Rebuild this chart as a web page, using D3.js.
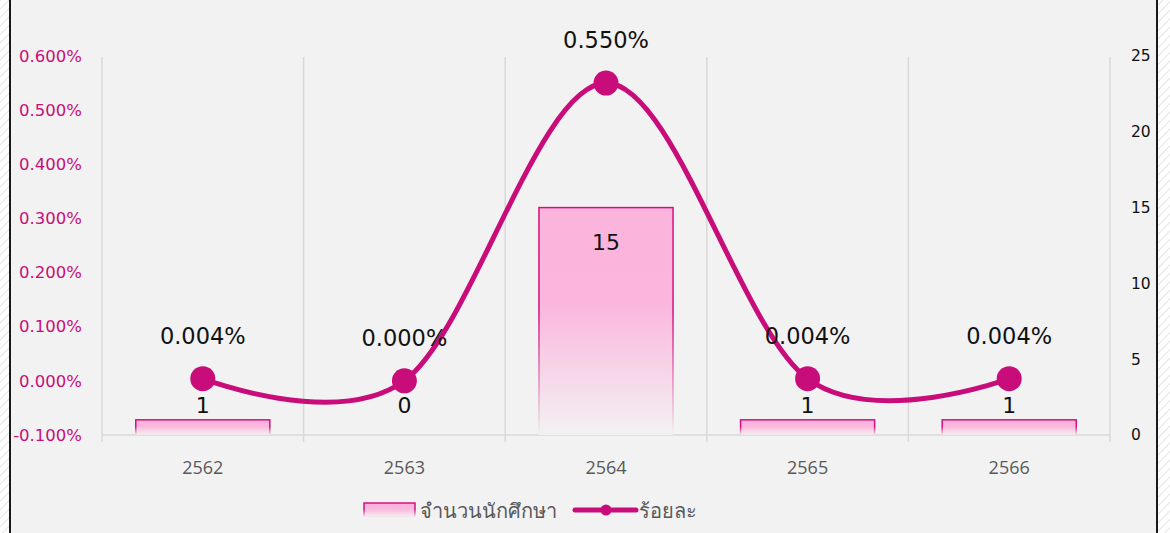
<!DOCTYPE html>
<html>
<head>
<meta charset="utf-8">
<script src="https://cdn.jsdelivr.net/npm/d3@7"></script>
<style>
html,body{margin:0;padding:0;background:#fff;}
svg{display:block;}
</style>
</head>
<body>
<svg id="chart" width="1170" height="533"></svg>
<script>
const categories = ["2562", "2563", "2564", "2565", "2566"];
const students = [1, 0, 15, 1, 1];
const percents = [0.004, 0.000, 0.550, 0.004, 0.004];
const percentLabels = ["0.004%", "0.000%", "0.550%", "0.004%", "0.004%"];
const leftTicks = [-0.1, 0, 0.1, 0.2, 0.3, 0.4, 0.5, 0.6];
const rightTicks = [0, 5, 10, 15, 20, 25];
const seriesNames = ["จำนวนนักศึกษา", "ร้อยละ"];

const W = 1170, H = 533;
const svg = d3.select("#chart");
const pink = "#c80d7b";
const numFont = "'DejaVu Sans', sans-serif";

const defs = svg.append("defs");
const pat = defs.append("pattern").attr("id", "hatch").attr("patternUnits", "userSpaceOnUse")
  .attr("width", 6).attr("height", 6).attr("patternTransform", "rotate(45)");
pat.append("rect").attr("width", 6).attr("height", 6).attr("fill", "#ffffff");
pat.append("line").attr("x1", 0).attr("y1", 0).attr("x2", 0).attr("y2", 6).attr("stroke", "#e4e4e4").attr("stroke-width", 2);

const gFill = defs.append("linearGradient").attr("id", "barFill").attr("x1", 0).attr("y1", 0).attr("x2", 0).attr("y2", 1);
gFill.append("stop").attr("offset", "0%").attr("stop-color", "#fbb4dc");
gFill.append("stop").attr("offset", "42%").attr("stop-color", "#fbb6dd");
gFill.append("stop").attr("offset", "100%").attr("stop-color", "#f2f2f2");
const gStroke = defs.append("linearGradient").attr("id", "barStroke").attr("x1", 0).attr("y1", 0).attr("x2", 0).attr("y2", 1);
gStroke.append("stop").attr("offset", "0%").attr("stop-color", "#d4107f").attr("stop-opacity", 1);
gStroke.append("stop").attr("offset", "45%").attr("stop-color", "#d4107f").attr("stop-opacity", 1);
gStroke.append("stop").attr("offset", "100%").attr("stop-color", "#d4107f").attr("stop-opacity", 0);

// background
svg.append("rect").attr("width", W).attr("height", H).attr("fill", "url(#hatch)");
svg.append("rect").attr("x", 10).attr("y", -2).attr("width", 1147).attr("height", H + 4)
  .attr("fill", "#f2f2f2").attr("stroke", "#1a1a1a").attr("stroke-width", 2);

const x = d3.scaleBand().domain(categories).range([102, 1110]).paddingInner(0).paddingOuter(0);
const yL = d3.scaleLinear().domain([-0.1, 0.6]).range([435, 56]);
const yR = d3.scaleLinear().domain([0, 25]).range([435, 56]);

// vertical gridlines
const bounds = categories.map(c => x(c)).concat([x.range()[1]]);
svg.append("g").selectAll("line").data(bounds).join("line")
  .attr("x1", d => d).attr("x2", d => d).attr("y1", 57).attr("y2", 442)
  .attr("stroke", "#d9d9d9").attr("stroke-width", 1.5);
// baseline
svg.append("line").attr("x1", 102).attr("x2", 1110).attr("y1", 435).attr("y2", 435)
  .attr("stroke", "#d9d9d9").attr("stroke-width", 1.5);

// left axis
const fmtPct = d => (d < 0 ? "-" : "") + Math.abs(d).toFixed(3) + "%";
const axL = svg.append("g").attr("transform", "translate(82,0)")
  .call(d3.axisLeft(yL).tickValues(leftTicks).tickSize(0).tickPadding(0).tickFormat(fmtPct));
axL.select(".domain").remove();
axL.selectAll("text").attr("fill", pink).style("font-family", numFont).style("font-size", "16.5px");

// right axis
const axR = svg.append("g").attr("transform", "translate(1131,0)")
  .call(d3.axisRight(yR).tickValues(rightTicks).tickSize(0).tickPadding(0));
axR.select(".domain").remove();
axR.selectAll("text").attr("fill", "#111").style("font-family", numFont).style("font-size", "15.5px");

// x axis labels
const axX = svg.append("g").attr("transform", "translate(0,468)")
  .call(d3.axisBottom(x).tickSize(0).tickPadding(0));
axX.select(".domain").remove();
axX.selectAll("text").attr("fill", "#595959").style("font-family", "'Open Sans', sans-serif").style("font-size", "18px").attr("dy", "0.35em");

// bars
const bw = x.bandwidth() * 0.665;
svg.append("g").selectAll("rect").data(students.map((v, i) => ({c: categories[i], v}))).join("rect")
  .filter(d => d.v > 0)
  .attr("x", d => x(d.c) + (x.bandwidth() - bw) / 2)
  .attr("y", d => yR(d.v))
  .attr("width", bw)
  .attr("height", d => yR(0) - yR(d.v))
  .attr("fill", "url(#barFill)")
  .attr("stroke", "url(#barStroke)")
  .attr("stroke-width", 1.5);

// bar labels
svg.append("g").selectAll("text").data(students.map((v, i) => ({c: categories[i], v}))).join("text")
  .attr("x", d => x(d.c) + x.bandwidth() / 2)
  .attr("y", d => (yR(0) - yR(d.v)) > 40 ? yR(d.v) + 35 : Math.min(yR(d.v), yR(1)) - 14)
  .attr("text-anchor", "middle").attr("dominant-baseline", "central")
  .attr("fill", "#111").style("font-family", numFont).style("font-size", "22px")
  .text(d => d.v);

// line
const pts = percents.map((v, i) => [x(categories[i]) + x.bandwidth() / 2, yL(v)]);
svg.append("path").datum(pts)
  .attr("d", d3.line().curve(d3.curveCardinal.tension(0)))
  .attr("fill", "none").attr("stroke", pink).attr("stroke-width", 5);
svg.append("g").selectAll("circle").data(pts).join("circle")
  .attr("cx", d => d[0]).attr("cy", d => d[1]).attr("r", 12.5).attr("fill", pink);

// percent labels
svg.append("g").selectAll("text").data(pts).join("text")
  .attr("x", d => d[0]).attr("y", d => d[1] - 43)
  .attr("text-anchor", "middle").attr("dominant-baseline", "central")
  .attr("fill", "#111").style("font-family", numFont).style("font-size", "22.5px")
  .text((d, i) => percentLabels[i]);

// legend
const lg = svg.append("g");
lg.append("rect").attr("x", 364).attr("y", 503).attr("width", 51).attr("height", 14)
  .attr("fill", "url(#barFill)").attr("stroke", "url(#barStroke)").attr("stroke-width", 1.5);
lg.append("text").attr("x", 420).attr("y", 510).attr("dominant-baseline", "central")
  .attr("fill", "#595959").style("font-family", "'Noto Sans', sans-serif").style("font-size", "20px").text(seriesNames[0]);
lg.append("line").attr("x1", 575).attr("x2", 636).attr("y1", 510).attr("y2", 510).attr("stroke", pink).attr("stroke-width", 5).attr("stroke-linecap", "round");
lg.append("circle").attr("cx", 606).attr("cy", 510).attr("r", 5.5).attr("fill", pink);
lg.append("text").attr("x", 639).attr("y", 510).attr("dominant-baseline", "central")
  .attr("fill", "#595959").style("font-family", "'Noto Sans', sans-serif").style("font-size", "20px").text(seriesNames[1]);
</script>
</body>
</html>
